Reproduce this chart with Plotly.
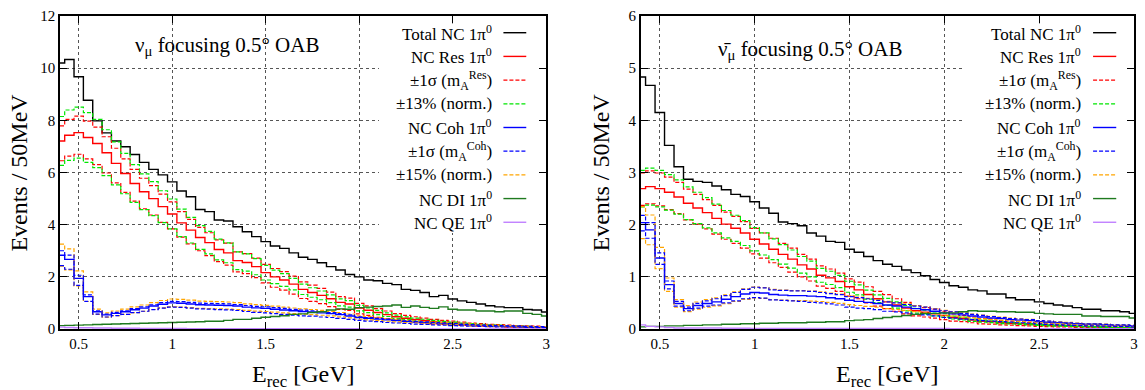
import plotly.graph_objects as go

# ---------------- data (bin centres, 50 MeV bins) ----------------
E_REC = [0.40, 0.45, 0.50, 0.55, 0.60, 0.65, 0.70, 0.75, 0.80, 0.85, 0.90, 0.95,
         1.00, 1.05, 1.10, 1.15, 1.20, 1.25, 1.30, 1.35, 1.40, 1.45, 1.50, 1.55,
         1.60, 1.65, 1.70, 1.75, 1.80, 1.85, 1.90, 1.95, 2.00, 2.05, 2.10, 2.15,
         2.20, 2.25, 2.30, 2.35, 2.40, 2.45, 2.50, 2.55, 2.60, 2.65, 2.70, 2.75,
         2.80, 2.85, 2.90, 2.95, 3.00]

X_TICKS = [0.5, 1, 1.5, 2, 2.5, 3]
X_TICK_TEXT = ["0.5", "1", "1.5", "2", "2.5", "3"]
Y_TICKS_NU = [0, 2, 4, 6, 8, 10, 12]
Y_TICKS_NUBAR = [0, 1, 2, 3, 4, 5, 6]

NORM_RES = 0.13   # "±13% (norm.)"
NORM_COH = 0.15   # "±15% (norm.)"

# ----- nu_mu focusing -----
NU_TOTAL = [10.20, 10.33, 9.67, 8.77, 7.98, 7.52, 7.21, 6.99, 6.69, 6.39, 6.12, 5.91, 5.64, 5.29, 5.07, 4.58,
            4.50, 4.18, 4.14, 3.92, 3.73, 3.54, 3.35, 3.18, 3.09, 2.92, 2.75, 2.67, 2.54, 2.39, 2.26, 2.09, 2.00,
            1.88, 1.85, 1.75, 1.70, 1.52, 1.48, 1.40, 1.24, 1.29, 1.15, 1.08, 1.02, 0.96, 0.89, 0.85, 0.82, 0.82,
            0.75, 0.73, 0.65]
NU_RES = [7.21, 7.43, 7.53, 7.34, 7.11, 6.76, 6.35, 5.96, 5.58, 5.26, 5.00, 4.69, 4.41, 4.07, 3.79, 3.51,
          3.31, 3.05, 2.92, 2.62, 2.55, 2.39, 2.16, 2.00, 1.88, 1.72, 1.52, 1.40, 1.29, 1.16, 1.02, 0.96, 0.80,
          0.72, 0.63, 0.55, 0.47, 0.41, 0.37, 0.33, 0.29, 0.26, 0.23, 0.20, 0.18, 0.16, 0.14, 0.13, 0.11, 0.10,
          0.09, 0.08, 0.07]
NU_RES_MA_UP = [7.79, 8.04, 8.16, 7.97, 7.74, 7.37, 6.93, 6.52, 6.12, 5.78, 5.50, 5.17, 4.87, 4.50, 4.20, 3.90,
                3.69, 3.42, 3.29, 2.96, 2.89, 2.72, 2.48, 2.32, 2.20, 2.03, 1.81, 1.68, 1.56, 1.41, 1.24, 1.18, 0.98,
                0.89, 0.78, 0.69, 0.59, 0.52, 0.47, 0.42, 0.37, 0.33, 0.30, 0.26, 0.23, 0.21, 0.18, 0.17, 0.15, 0.13,
                0.12, 0.11, 0.09]
NU_RES_MA_LO = [6.45, 6.63, 6.70, 6.52, 6.30, 5.98, 5.60, 5.24, 4.90, 4.61, 4.37, 4.09, 3.84, 3.52, 3.26, 3.00,
                2.81, 2.58, 2.45, 2.19, 2.12, 1.97, 1.77, 1.60, 1.49, 1.34, 1.17, 1.06, 0.97, 0.86, 0.75, 0.71, 0.58,
                0.52, 0.45, 0.39, 0.34, 0.29, 0.26, 0.23, 0.20, 0.18, 0.16, 0.14, 0.12, 0.11, 0.09, 0.09, 0.07, 0.07,
                0.06, 0.05, 0.05]
NU_COH = [2.83, 2.67, 1.94, 1.24, 0.66, 0.54, 0.60, 0.66, 0.74, 0.80, 0.88, 0.95, 1.00,
          0.99, 0.96, 0.93, 0.92, 0.91, 0.90, 0.88, 0.84, 0.81, 0.79, 0.76, 0.73, 0.70, 0.67, 0.65, 0.62, 0.59,
          0.55, 0.50, 0.44,
          0.41, 0.38, 0.35, 0.32, 0.29, 0.27, 0.25, 0.23, 0.21, 0.19, 0.17, 0.16, 0.14, 0.13, 0.12, 0.11, 0.10,
          0.09, 0.08, 0.08]
NU_COH_MA_UP = [3.00, 2.83, 2.06, 1.31, 0.70, 0.57, 0.64, 0.70, 0.78, 0.85, 0.93, 1.01, 1.06,
                1.05, 1.02, 0.99, 0.98, 0.97, 0.96, 0.94, 0.90, 0.87, 0.85, 0.82, 0.79, 0.75, 0.72, 0.70, 0.67, 0.63,
                0.59, 0.54, 0.47,
                0.44, 0.41, 0.38, 0.34, 0.31, 0.29, 0.27, 0.25, 0.23, 0.21, 0.18, 0.17, 0.15, 0.14, 0.13, 0.12, 0.11,
                0.10, 0.09, 0.09]
NU_COH_MA_LO = [2.43, 2.29, 1.67, 1.06, 0.57, 0.46, 0.51, 0.56, 0.63, 0.68, 0.74, 0.80, 0.84,
                0.83, 0.80, 0.77, 0.76, 0.74, 0.73, 0.71, 0.67, 0.64, 0.62, 0.59, 0.56, 0.53, 0.50, 0.49, 0.46, 0.44,
                0.41, 0.37, 0.33,
                0.30, 0.28, 0.25, 0.23, 0.21, 0.19, 0.18, 0.16, 0.15, 0.13, 0.12, 0.11, 0.10, 0.09, 0.08, 0.08, 0.07,
                0.06, 0.05, 0.05]
NU_DI = [0.13, 0.14, 0.15, 0.16, 0.17, 0.18, 0.19, 0.20, 0.21, 0.22, 0.23, 0.24, 0.25, 0.26, 0.27, 0.28,
         0.30, 0.30, 0.33, 0.37, 0.37, 0.41, 0.45, 0.48, 0.51, 0.56, 0.58, 0.63, 0.66, 0.73, 0.77, 0.76, 0.82,
         0.84, 0.86, 0.88, 0.92, 0.83, 0.88, 0.83, 0.79, 0.85, 0.76, 0.73, 0.73, 0.69, 0.69, 0.66, 0.69, 0.69,
         0.60, 0.56, 0.50]
NU_QE = [0.07, 0.06, 0.05, 0.05, 0.04, 0.04, 0.03, 0.03, 0.03, 0.02, 0.02, 0.02, 0.02, 0.02,
         0.01, 0.01, 0.01, 0.01, 0.01, 0.01, 0.01, 0.01, 0.01, 0.01, 0.01, 0.01, 0.01, 0.01, 0.01, 0.01,
         0.01, 0.01, 0.01,
         0.005, 0.005, 0.005, 0.005, 0.005, 0.005, 0.005, 0.005, 0.005, 0.005, 0.005, 0.005, 0.005, 0.005,
         0.005, 0.005, 0.005, 0.005, 0.005, 0.005]

# ----- anti-nu_mu focusing -----
NUBAR_TOTAL = [4.83, 4.67, 4.15, 3.52, 3.11, 2.87, 2.83, 2.81, 2.74, 2.67, 2.58, 2.54, 2.44, 2.32, 2.22, 2.05,
               2.02, 1.98, 1.84, 1.78, 1.68, 1.66, 1.53, 1.47, 1.39, 1.31, 1.24, 1.20, 1.13, 1.08, 1.02, 0.95, 0.89,
               0.83, 0.80, 0.75, 0.73, 0.67, 0.67, 0.60, 0.56, 0.56, 0.52, 0.49, 0.46, 0.44, 0.41, 0.38, 0.38, 0.35,
               0.35, 0.33, 0.30]
NUBAR_RES = [2.69, 2.73, 2.69, 2.62, 2.53, 2.41, 2.32, 2.23, 2.12, 2.01, 1.93, 1.84, 1.72, 1.63, 1.53, 1.43,
             1.34, 1.23, 1.15, 1.03, 0.98, 0.91, 0.81, 0.75, 0.66, 0.58, 0.52, 0.46, 0.40, 0.35, 0.32, 0.29, 0.26,
             0.22, 0.20, 0.17, 0.15, 0.14, 0.12, 0.11, 0.10, 0.09, 0.08, 0.07, 0.065, 0.06, 0.05, 0.045, 0.04, 0.035,
             0.03, 0.03, 0.025]
NUBAR_RES_MA_UP = [2.99, 3.03, 2.99, 2.91, 2.81, 2.68, 2.58, 2.48, 2.37, 2.24, 2.16, 2.06, 1.93, 1.84, 1.74, 1.64,
                   1.55, 1.43, 1.34, 1.21, 1.15, 1.07, 0.96, 0.90, 0.81, 0.72, 0.66, 0.58, 0.51, 0.45, 0.41, 0.38, 0.34,
                   0.29, 0.26, 0.23, 0.20, 0.19, 0.16, 0.15, 0.14, 0.125, 0.11, 0.10, 0.09, 0.085, 0.072, 0.065, 0.058,
                   0.051, 0.044, 0.044, 0.036]
NUBAR_RES_MA_LO = [2.37, 2.40, 2.36, 2.29, 2.21, 2.09, 2.01, 1.92, 1.82, 1.72, 1.64, 1.55, 1.44, 1.36, 1.27, 1.18,
                   1.09, 1.00, 0.92, 0.82, 0.78, 0.72, 0.63, 0.58, 0.50, 0.44, 0.39, 0.34, 0.29, 0.25, 0.23, 0.21, 0.18,
                   0.15, 0.14, 0.12, 0.10, 0.095, 0.08, 0.073, 0.066, 0.059, 0.052, 0.045, 0.041, 0.038, 0.031, 0.028,
                   0.025, 0.021, 0.018, 0.018, 0.015]
NUBAR_COH = [2.04, 1.90, 1.36, 0.85, 0.49, 0.39, 0.45, 0.49, 0.52, 0.57, 0.62, 0.67, 0.70,
             0.69, 0.66, 0.65, 0.64, 0.64, 0.63, 0.62, 0.60, 0.58, 0.55, 0.53, 0.51, 0.49, 0.46, 0.44, 0.42, 0.39,
             0.37, 0.34, 0.31,
             0.29, 0.27, 0.25, 0.23, 0.21, 0.20, 0.18, 0.17, 0.16, 0.14, 0.13, 0.12, 0.11, 0.10, 0.09, 0.09, 0.08,
             0.07, 0.07, 0.06]
NUBAR_COH_MA_UP = [2.18, 2.04, 1.46, 0.92, 0.53, 0.42, 0.49, 0.54, 0.58, 0.64, 0.70, 0.76, 0.80,
                   0.79, 0.75, 0.74, 0.73, 0.73, 0.72, 0.70, 0.68, 0.66, 0.62, 0.60, 0.58, 0.55, 0.52, 0.50, 0.47, 0.44,
                   0.42, 0.38, 0.35,
                   0.33, 0.30, 0.28, 0.26, 0.24, 0.22, 0.20, 0.19, 0.18, 0.16, 0.15, 0.13, 0.12, 0.11, 0.10, 0.10, 0.09,
                   0.08, 0.08, 0.07]
NUBAR_COH_MA_LO = [1.88, 1.74, 1.24, 0.77, 0.44, 0.35, 0.40, 0.44, 0.46, 0.50, 0.54, 0.58, 0.60,
                   0.59, 0.56, 0.55, 0.54, 0.53, 0.51, 0.50, 0.48, 0.46, 0.42, 0.40, 0.39, 0.37, 0.34, 0.33, 0.31, 0.28,
                   0.27, 0.25, 0.22,
                   0.21, 0.19, 0.18, 0.16, 0.15, 0.14, 0.13, 0.12, 0.11, 0.10, 0.09, 0.08, 0.075, 0.07, 0.06, 0.06,
                   0.055, 0.05, 0.05, 0.04]
NUBAR_DI = [0.04, 0.05, 0.05, 0.06, 0.06, 0.07, 0.07, 0.08, 0.08, 0.09, 0.09, 0.10, 0.10, 0.11, 0.11, 0.12,
            0.12, 0.12, 0.13, 0.13, 0.14, 0.14, 0.16, 0.17, 0.18, 0.20, 0.22, 0.24, 0.26, 0.28, 0.30, 0.30, 0.31,
            0.31, 0.33, 0.35, 0.34, 0.34, 0.33, 0.33, 0.32, 0.32, 0.30, 0.29, 0.28, 0.28, 0.28, 0.25, 0.25, 0.24,
            0.24, 0.24, 0.21]
NUBAR_QE = [0.08, 0.05, 0.04, 0.03, 0.02, 0.02, 0.02, 0.02, 0.02, 0.015, 0.015, 0.015, 0.01,
            0.01, 0.01, 0.01, 0.01, 0.01, 0.01, 0.01, 0.01, 0.01, 0.01, 0.01, 0.01, 0.01, 0.01, 0.01, 0.01, 0.01,
            0.01, 0.01, 0.01,
            0.005, 0.005, 0.005, 0.005, 0.005, 0.005, 0.005, 0.005, 0.005, 0.005, 0.005, 0.005, 0.005, 0.005,
            0.005, 0.005, 0.005, 0.005, 0.005, 0.005]

PANEL_TITLES = ["\u03bd<sub>\u03bc</sub> focusing 0.5\u00b0 OAB",
                "\u03bd\u0304<sub>\u03bc</sub> focusing 0.5\u00b0 OAB"]

LEGEND_LABELS = ["Total NC 1\u03c0<sup>0</sup>",
                 "NC Res 1\u03c0<sup>0</sup>",
                 "\u00b11\u03c3 (m<sub>A</sub><sup>Res</sup>)",
                 "\u00b113% (norm.)",
                 "NC Coh 1\u03c0<sup>0</sup>",
                 "\u00b11\u03c3 (m<sub>A</sub><sup>Coh</sup>)",
                 "\u00b115% (norm.)",
                 "NC DI 1\u03c0<sup>0</sup>",
                 "NC QE 1\u03c0<sup>0</sup>"]

# ---------------- styles ----------------
FONT = "Liberation Serif, Times New Roman, serif"
C_TOTAL = "#000000"
C_RES = "#ff0000"
C_NORMRES = "#00e600"
C_COH = "#0000ff"
C_NORMCOH = "#ffa500"
C_DI = "#1f7a1f"
C_QE = "#c080ff"
DASH = "4px,2px"
LEG_STYLE = [(C_TOTAL, "solid"), (C_RES, "solid"), (C_RES, DASH), (C_NORMRES, DASH),
             (C_COH, "solid"), (C_COH, DASH), (C_NORMCOH, DASH), (C_DI, "solid"), (C_QE, "solid")]

fig = go.Figure()


def step(y, color, dash, xa, ya, width=1.4):
    fig.add_trace(go.Scatter(x=E_REC, y=y, mode="lines", line_shape="hvh",
                             line=dict(color=color, width=width, dash=dash),
                             xaxis=xa, yaxis=ya, showlegend=False, hoverinfo="skip"))


def panel(total, res, res_up, res_lo, coh, coh_up, coh_lo, di, qe, xa, ya):
    step(total, C_TOTAL, "solid", xa, ya)
    step(res, C_RES, "solid", xa, ya)
    step(res_up, C_RES, DASH, xa, ya, 1.2)
    step(res_lo, C_RES, DASH, xa, ya, 1.2)
    step([v * (1 + NORM_RES) for v in res], C_NORMRES, DASH, xa, ya, 1.2)
    step([v * (1 - NORM_RES) for v in res], C_NORMRES, DASH, xa, ya, 1.2)
    step(coh, C_COH, "solid", xa, ya)
    step([v * (1 + NORM_COH) for v in coh], C_NORMCOH, DASH, xa, ya, 1.2)
    step([v * (1 - NORM_COH) for v in coh], C_NORMCOH, DASH, xa, ya, 1.2)
    step(coh_up, C_COH, DASH, xa, ya, 1.2)
    step(coh_lo, C_COH, DASH, xa, ya, 1.2)
    step(di, C_DI, "solid", xa, ya)
    step(qe, C_QE, "solid", xa, ya)


panel(NU_TOTAL, NU_RES, NU_RES_MA_UP, NU_RES_MA_LO, NU_COH, NU_COH_MA_UP, NU_COH_MA_LO,
      NU_DI, NU_QE, "x", "y")
panel(NUBAR_TOTAL, NUBAR_RES, NUBAR_RES_MA_UP, NUBAR_RES_MA_LO, NUBAR_COH, NUBAR_COH_MA_UP,
      NUBAR_COH_MA_LO, NUBAR_DI, NUBAR_QE, "x2", "y2")

axis_common = dict(showline=True, linecolor="black", linewidth=1.5, mirror="allticks",
                   ticks="inside", ticklen=7, tickwidth=1, tickcolor="black",
                   showgrid=True, gridcolor="#555555", griddash="dot", gridwidth=1,
                   zeroline=False, tickfont=dict(family=FONT, size=15, color="black"))

fig.update_layout(
    width=1145, height=390,
    margin=dict(l=60, r=7, t=16, b=61),
    paper_bgcolor="white", plot_bgcolor="white",
    font=dict(family=FONT, color="black"),
    xaxis=dict(domain=[0, 0.4527], range=[0.4, 3], tickvals=X_TICKS, ticktext=X_TICK_TEXT,
               anchor="y", **axis_common),
    yaxis=dict(domain=[0, 1], range=[0, 12], tickvals=Y_TICKS_NU, anchor="x", **axis_common),
    xaxis2=dict(domain=[0.5408, 1], range=[0.4, 3], tickvals=X_TICKS, ticktext=X_TICK_TEXT,
                anchor="y2", **axis_common),
    yaxis2=dict(domain=[0, 1], range=[0, 6], tickvals=Y_TICKS_NUBAR, anchor="x2", **axis_common),
)

shapes = []
annotations = []
ROW_Y0 = 0.9466
ROW_DY = 0.0757
for i, (xa, ya) in enumerate([("x", "y"), ("x2", "y2")]):
    xd, yd = xa + " domain", ya + " domain"
    # legend background (hides the grid behind the key), kept clear of the axis ticks
    shapes.append(dict(type="rect", xref=xd, yref=yd, x0=0.656, x1=0.984, y0=0.307, y1=0.976,
                       fillcolor="white", line=dict(width=0), layer="above"))
    tx = 0.893 if i == 0 else 0.896
    lx0, lx1 = (0.912, 0.959) if i == 0 else (0.917, 0.964)
    for k, (lab, (col, dash)) in enumerate(zip(LEGEND_LABELS, LEG_STYLE)):
        yy = ROW_Y0 - k * ROW_DY
        annotations.append(dict(xref=xd, yref=yd, x=tx, y=yy, text=lab, showarrow=False,
                                xanchor="right", yanchor="middle",
                                font=dict(family=FONT, size=17, color="black")))
        shapes.append(dict(type="line", xref=xd, yref=yd, x0=lx0, x1=lx1, y0=yy, y1=yy,
                           layer="above",
                           line=dict(color=col, width=1.4 if dash == "solid" else 1.2, dash=dash)))
    # panel title inside plot
    annotations.append(dict(xref=xd, yref=yd, x=0.344 if i == 0 else 0.343, y=0.905 if i == 0 else 0.89,
                            text=PANEL_TITLES[i], showarrow=False, xanchor="center", yanchor="middle",
                            font=dict(family=FONT, size=21, color="black")))
    # x-axis title
    annotations.append(dict(xref=xd, yref="paper", x=0.5, y=-0.15, text="E<sub>rec</sub> [GeV]",
                            showarrow=False, xanchor="center", yanchor="middle",
                            font=dict(family=FONT, size=24, color="black")))

annotations.append(dict(xref="paper", yref="paper", x=-0.039, y=0.5, text="Events / 50MeV",
                        textangle=-90, showarrow=False, xanchor="center", yanchor="middle",
                        font=dict(family=FONT, size=24, color="black")))
annotations.append(dict(xref="paper", yref="paper", x=0.5037, y=0.5, text="Events / 50MeV",
                        textangle=-90, showarrow=False, xanchor="center", yanchor="middle",
                        font=dict(family=FONT, size=24, color="black")))

fig.update_layout(shapes=shapes, annotations=annotations)
fig.write_html("out.html")
